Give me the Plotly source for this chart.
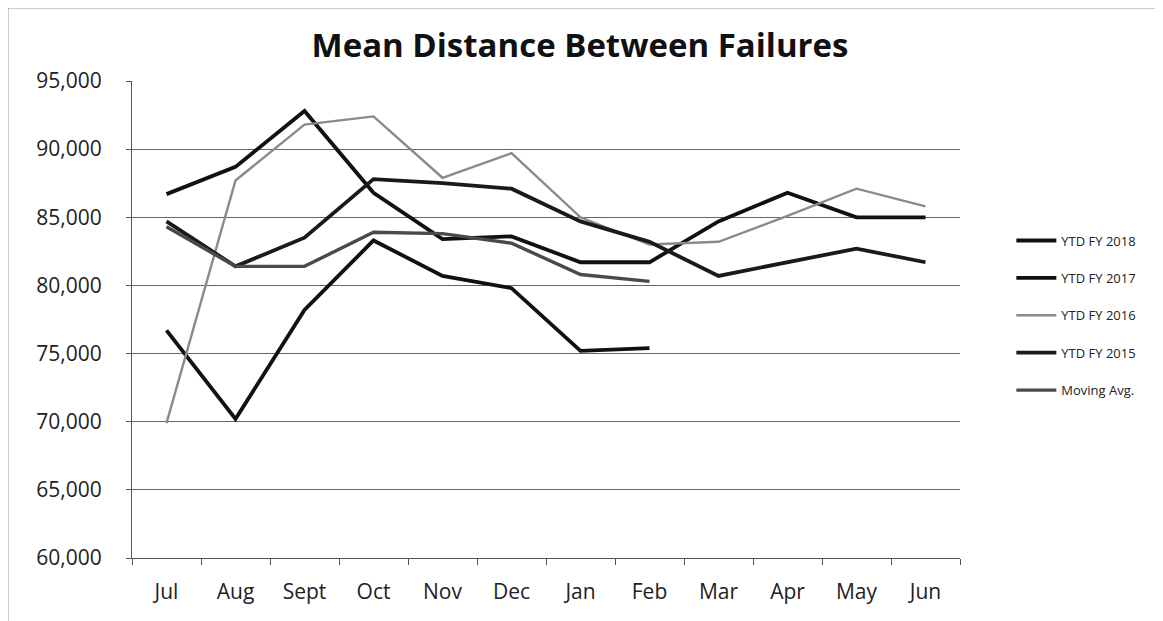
import plotly.graph_objects as go

months = ["Jul", "Aug", "Sept", "Oct", "Nov", "Dec", "Jan", "Feb", "Mar", "Apr", "May", "Jun"]

ytd_fy2018 = [76700, 70200, 78200, 83300, 80700, 79800, 75200, 75400]
ytd_fy2017 = [86700, 88700, 92800, 86800, 83400, 83600, 81700, 81700, 84700, 86800, 85000, 85000]
ytd_fy2016 = [69900, 87700, 91800, 92400, 87900, 89700, 85000, 83000, 83200, 85100, 87100, 85800]
ytd_fy2015 = [84700, 81400, 83500, 87800, 87500, 87100, 84700, 83200, 80700, 81700, 82700, 81700]
moving_avg = [84300, 81400, 81400, 83900, 83800, 83100, 80800, 80300]

y_ticks = [60000, 65000, 70000, 75000, 80000, 85000, 90000, 95000]

series = [
    ("YTD FY 2018", ytd_fy2018, "#111111", 3.8),
    ("YTD FY 2017", ytd_fy2017, "#111111", 3.8),
    ("YTD FY 2016", ytd_fy2016, "#8a8a8a", 2.4),
    ("YTD FY 2015", ytd_fy2015, "#1a1a1a", 3.8),
    ("Moving Avg.", moving_avg, "#4a4a4a", 3.4),
]

fig = go.Figure()
for i, (name, vals, color, w) in enumerate(series):
    fig.add_trace(go.Scatter(
        x=months[:len(vals)], y=vals, name=name, mode="lines",
        line=dict(color=color, width=w), legendgroup=f"g{i}",
    ))

L, R, T, B = 124, 211, 73, 71
PW, PH = 1163 - L - R, 621 - T - B

fig.update_layout(
    width=1163, height=621,
    paper_bgcolor="white", plot_bgcolor="white",
    margin=dict(l=L, r=R, t=T, b=B),
    font=dict(family="'Open Sans', Lato, sans-serif", color="#222222"),
    title=dict(text="<b>Mean Distance Between Failures</b>", xref="paper",
               x=(580 - 132) / PW, xanchor="center",
               y=0.94, yanchor="middle", font=dict(size=33, color="#111111")),
    showlegend=True,
    legend=dict(x=1.062, y=0.697, xanchor="left", yanchor="top",
                font=dict(size=13, color="#222222"), tracegroupgap=17.5,
                itemwidth=40, bgcolor="rgba(0,0,0,0)"),
    xaxis=dict(type="category", categoryorder="array", categoryarray=months,
               range=[-0.5, 11.5], showgrid=False, showline=True, linecolor="#555555",
               ticks="outside", tickson="boundaries", ticklen=6, tickcolor="#555555",
               ticklabelstandoff=15,
               tickfont=dict(size=21, color="#222222"), zeroline=False),
    yaxis=dict(range=[60000, 95000], tickvals=y_ticks, tickformat=",",
               showgrid=True, gridcolor="#666666", gridwidth=1,
               showline=True, linecolor="#555555", ticks="outside", ticklen=5,
               tickcolor="#555555", ticklabelstandoff=20,
               tickfont=dict(size=21, color="#222222"),
               zeroline=False),
    shapes=[dict(type="rect", xref="paper", yref="paper",
                 x0=-(L - 0) / PW, x1=(1153 - L) / PW, y0=-B / PH, y1=(T - 0) / PH + 1,
                 line=dict(color="#999999", width=1), fillcolor="rgba(0,0,0,0)",
                 layer="below")],
)

fig.write_html("out.html")
